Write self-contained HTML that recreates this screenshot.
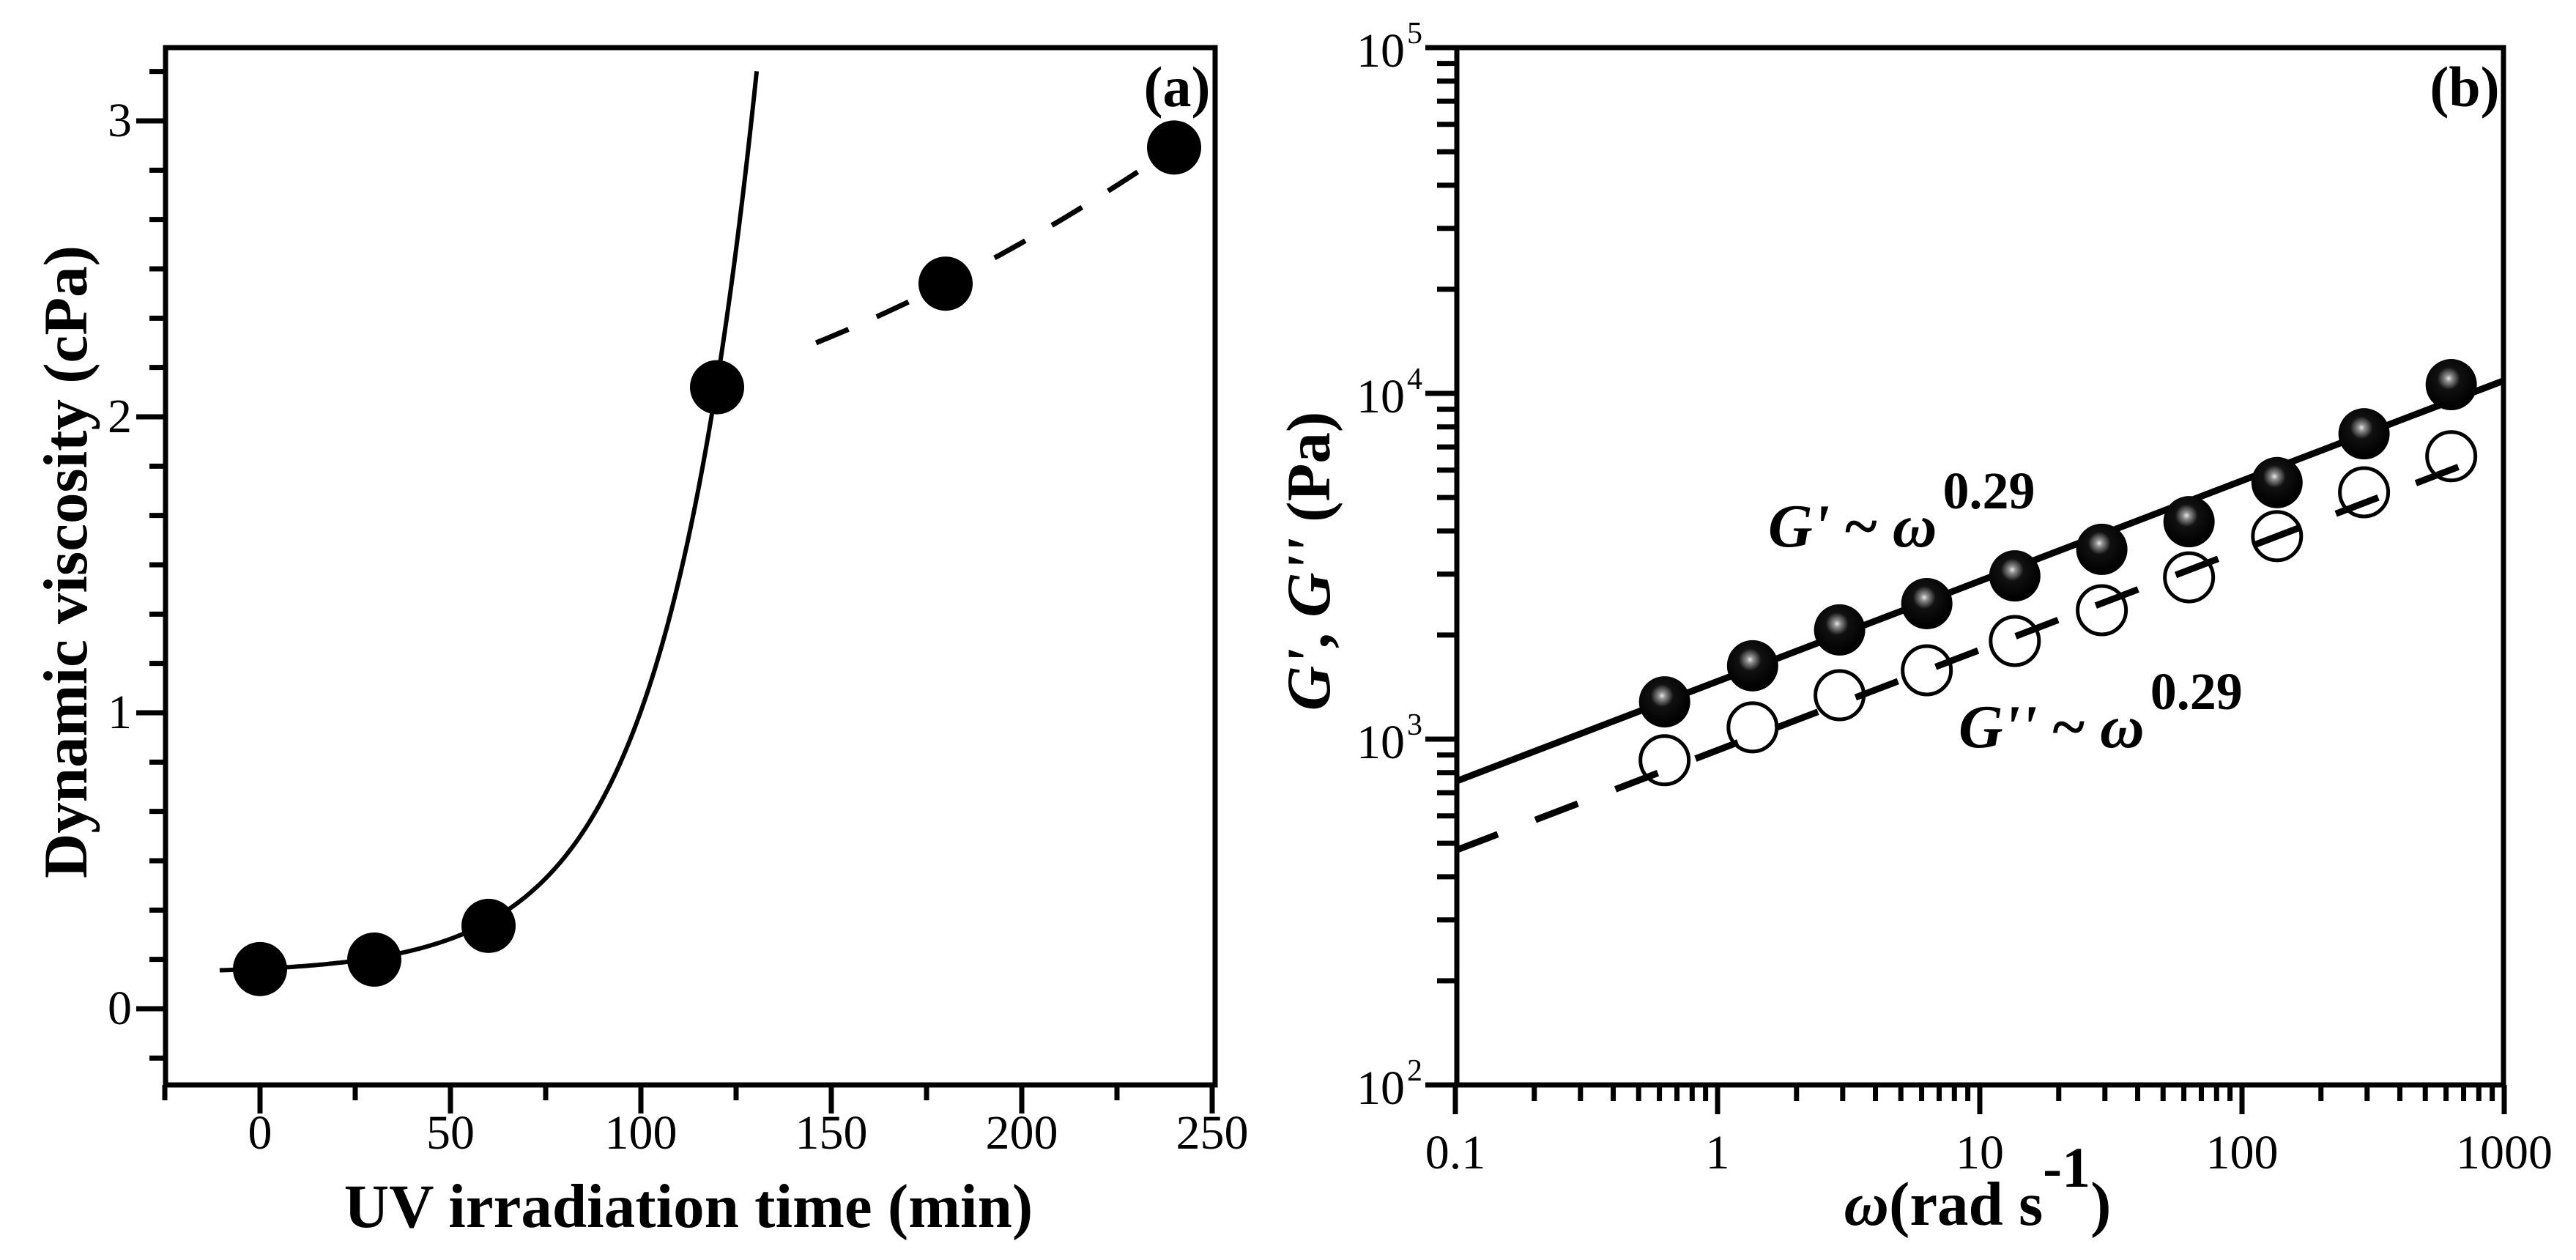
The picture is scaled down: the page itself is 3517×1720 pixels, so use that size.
<!DOCTYPE html>
<html><head><meta charset="utf-8">
<style>
html,body{margin:0;padding:0;background:#fff;}
svg{display:block;}
text{font-family:"Liberation Serif",serif;fill:#000;}
</style></head>
<body>
<svg id="chart" width="3517" height="1720" viewBox="0 0 3517 1720" xmlns="http://www.w3.org/2000/svg">
<defs>
<radialGradient id="sphere" cx="0.45" cy="0.38" r="0.55">
<stop offset="0" stop-color="#e8e8e8"/>
<stop offset="0.12" stop-color="#909090"/>
<stop offset="0.4" stop-color="#111"/>
<stop offset="1" stop-color="#000"/>
</radialGradient>
</defs>
<g id="panelA"></g>
<g id="panelB"></g>
</svg>
<script>
// ---------- Panel (a) data ----------
const timeMin = [0, 30, 60, 120, 180, 240];
const viscosity = [0.134, 0.166, 0.28, 2.10, 2.45, 2.91];
const xTicksA = [0, 50, 100, 150, 200, 250];
const yTicksA = [0, 1, 2, 3];
const expFit = [0.12, 0.0152, 24.6];      // y0, A, t1 : y = y0 + A*exp(t/t1)
const expFitRange = [-10.6, 130.6];
const dashFit = [[146, 2.25], [180, 2.45], [240, 2.91]]; // dashed trend anchors
// ---------- Panel (b) data ----------
const omega = [0.628, 1.36, 2.92, 6.28, 13.6, 29.2, 62.8, 136, 292, 628];
const gPrime = [1282, 1630, 2070, 2466, 2966, 3540, 4255, 5520, 7640, 10600];
const gDouble = [869, 1082, 1340, 1582, 1923, 2360, 2938, 3864, 5176, 6580];
const xTicksB = ["0.1", "1", "10", "100", "1000"];
const xTickValsB = [0.1, 1, 10, 100, 1000];
const yTickExpB = [2, 3, 4, 5];
const fitGp = [1470, 0.29];   // K, n at omega=1
const fitGpp = [929, 0.29];
const fitRangeGp = [0.1, 1000];
const fitRangeGpp = [0.1, 700];

const NS = "http://www.w3.org/2000/svg";
function mk(tag, attrs, parent, txt){
  const e = document.createElementNS(NS, tag);
  for (const k in attrs) e.setAttribute(k, attrs[k]);
  if (txt !== undefined) e.textContent = txt;
  parent.appendChild(e);
  return e;
}

// ===== Panel A =====
const A = document.getElementById('panelA');
const aL = 226, aR = 1659, aT = 65, aB = 1481;
const xa = t => 355 + (t - 0) * 5.2;
const ya = v => 1377 - v * 404;

for (let k = -25; k <= 250; k += 25) {
  const x = xa(k); if (x < aL - 1 || x > aR) continue;
  const major = k % 50 === 0;
  const t = mk('line', {x1:x, y1:aB, x2:x, y2:aB + (major ? 39 : 21), stroke:'#000', 'stroke-width':7}, A);
  
  
}
for (let i = -1; i <= 19; i++) {
  const v = i / 6; const y = ya(v);
  if (y < aT || y > aB) continue;
  const major = i % 6 === 0;
  const t = mk('line', {x1:aL, y1:y, x2:aL - (major ? 40 : 22), y2:y, stroke:'#000', 'stroke-width':7}, A);
  
  
}
xTicksA.forEach(v => {
  const t = mk('text', {x:xa(v), y:1568, 'font-size':66, 'text-anchor':'middle'}, A, String(v));
  
  
});
yTicksA.forEach(v => {
  const t = mk('text', {x:180, y:ya(v) + 21, 'font-size':66, 'text-anchor':'end'}, A, String(v));
  
  
});
const frameA = mk('rect', {x:aL, y:aT, width:aR - aL, height:aB - aT, fill:'none', stroke:'#000', 'stroke-width':7}, A);



let d = '';
for (let t = expFitRange[0]; t <= expFitRange[1] + 0.01; t += 0.5) {
  const v = expFit[0] + expFit[1] * Math.exp(t / expFit[2]);
  d += (d ? 'L' : 'M') + xa(t).toFixed(1) + ',' + ya(v).toFixed(1);
}
const fa = mk('path', {d:d, fill:'none', stroke:'#000', 'stroke-width':6}, A);



(function(){
  const [p0, p1, p2] = dashFit;
  const L = (t) => {
    const l0 = (t - p1[0]) * (t - p2[0]) / ((p0[0] - p1[0]) * (p0[0] - p2[0]));
    const l1 = (t - p0[0]) * (t - p2[0]) / ((p1[0] - p0[0]) * (p1[0] - p2[0]));
    const l2 = (t - p0[0]) * (t - p1[0]) / ((p2[0] - p0[0]) * (p2[0] - p1[0]));
    return p0[1] * l0 + p1[1] * l1 + p2[1] * l2;
  };
  let dd = '';
  for (let t = p0[0]; t <= p2[0] + 0.01; t += 1) dd += (dd ? 'L' : 'M') + xa(t).toFixed(1) + ',' + ya(L(t)).toFixed(1);
  const e = mk('path', {d:dd, fill:'none', stroke:'#000', 'stroke-width':7, 'stroke-dasharray':'48 42'}, A);
  
  
})();

timeMin.forEach((t, i) => {
  const c = mk('circle', {cx:xa(t), cy:ya(viscosity[i]), r:37, fill:'#000'}, A);
  
  
});

let tt = mk('text', {x:940, y:1675, 'font-size':85, 'font-weight':'bold', 'text-anchor':'middle'}, A, 'UV irradiation time (min)');


tt = mk('text', {x:0, y:0, 'font-size':85, 'font-weight':'bold', 'text-anchor':'middle', transform:'translate(118,767) rotate(-90)'}, A, 'Dynamic viscosity (cPa)');


tt = mk('text', {x:1607, y:145, 'font-size':78, 'font-weight':'bold', 'text-anchor':'middle'}, A, '(a)');



// ===== Panel B =====
const B = document.getElementById('panelB');
const bL = 1989, bR = 3418, bT = 65, bB = 1481;
const xb = w => 1987 + (Math.log10(w) + 1) * 358;
const yb = g => 1481 - (Math.log10(g) - 2) * 472;

for (let e = -1; e <= 3; e++) {
  for (let m = 1; m <= 9; m++) {
    const w = m * Math.pow(10, e); if (w > 1000) break;
    const x = xb(w);
    const t = mk('line', {x1:x, y1:bB, x2:x, y2:bB + (m === 1 ? 40 : 22), stroke:'#000', 'stroke-width':7}, B);
    
    
  }
}
for (let e = 2; e <= 5; e++) {
  for (let m = 1; m <= 9; m++) {
    const g = m * Math.pow(10, e); if (g > 100000) break;
    const y = yb(g);
    const t = mk('line', {x1:bL, y1:y, x2:bL - (m === 1 ? 43 : 27), y2:y, stroke:'#000', 'stroke-width':7}, B);
    
    
  }
}
xTicksB.forEach((s, i) => {
  const t = mk('text', {x:xb(xTickValsB[i]), y:1595, 'font-size':66, 'text-anchor':'middle'}, B, s);
  
  
});
yTickExpB.forEach(p => {
  const y = yb(Math.pow(10, p));
  const t = mk('text', {x:1918, y:y + 26, 'font-size':66, 'text-anchor':'end'}, B, '10');
  
  
  const s = mk('text', {x:1921, y:y - 6, 'font-size':42}, B, String(p));
  
  
});
const frameB = mk('rect', {x:bL, y:bT, width:bR - bL, height:bB - bT, fill:'none', stroke:'#000', 'stroke-width':7}, B);



let fl = mk('line', {x1:xb(fitRangeGp[0]), y1:yb(fitGp[0] * Math.pow(fitRangeGp[0], fitGp[1])), x2:xb(fitRangeGp[1]), y2:yb(fitGp[0] * Math.pow(fitRangeGp[1], fitGp[1])), stroke:'#000', 'stroke-width':9}, B);


fl = mk('line', {x1:xb(fitRangeGpp[0]), y1:yb(fitGpp[0] * Math.pow(fitRangeGpp[0], fitGpp[1])), x2:xb(fitRangeGpp[1]), y2:yb(fitGpp[0] * Math.pow(fitRangeGpp[1], fitGpp[1])), stroke:'#000', 'stroke-width':9, 'stroke-dasharray':'62 55'}, B);



omega.forEach((w, i) => {
  const c = mk('circle', {cx:xb(w), cy:yb(gDouble[i]), r:33, fill:'none', stroke:'#000', 'stroke-width':5}, B);
  
  
});
omega.forEach((w, i) => {
  const c = mk('circle', {cx:xb(w), cy:yb(gPrime[i]), r:35, fill:'url(#sphere)'}, B);
  
  
});

function powerLabel(x, y, main, name){
  const t = mk('text', {x:x, y:y, 'font-size':84, 'font-weight':'bold'}, B);
  
  
  mk('tspan', {'font-style':'italic'}, t, main);
  mk('tspan', {}, t, ' ~ ');
  mk('tspan', {'font-style':'italic'}, t, 'ω');
  mk('tspan', {dx:8, dy:-52, 'font-size':72}, t, '0.29');
}
powerLabel(2414, 746, "G'", 'g-prime-power-law-label');
powerLabel(2674, 1020, "G''", 'g-double-prime-power-law-label');

tt = mk('text', {x:2700, y:1672, 'font-size':85, 'font-weight':'bold', 'text-anchor':'middle'}, B);


mk('tspan', {'font-style':'italic'}, tt, 'ω');
mk('tspan', {}, tt, '(rad s');
mk('tspan', {dy:-52, 'font-size':78}, tt, '-1');
mk('tspan', {dy:52}, tt, ')');

tt = mk('text', {x:0, y:0, 'font-size':85, 'font-weight':'bold', 'text-anchor':'middle', transform:'translate(1815,766) rotate(-90)'}, B);


mk('tspan', {'font-style':'italic'}, tt, "G'");
mk('tspan', {}, tt, ', ');
mk('tspan', {'font-style':'italic'}, tt, "G''");
mk('tspan', {}, tt, ' (Pa)');

tt = mk('text', {x:3365, y:145, 'font-size':78, 'font-weight':'bold', 'text-anchor':'middle'}, B, '(b)');


</script>
</body></html>
